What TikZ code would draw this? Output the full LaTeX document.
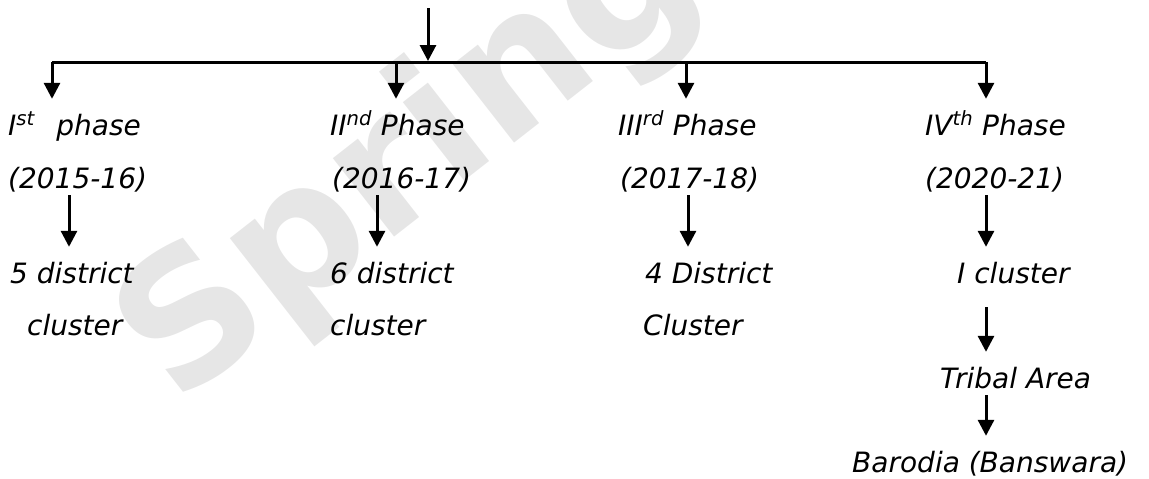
\documentclass[tikz,border=0pt]{standalone}
\usepackage{fontspec}
\setmainfont{DejaVu Sans}
\newfontfamily\lblfont{DejaVu Sans Oblique}
\newfontfamily\wmfont{DejaVu Sans Bold}
\usetikzlibrary{arrows.meta}
\definecolor{wmgray}{RGB}{230,230,230}
\tikzset{
  lbl/.style={font=\lblfont\fontsize{28}{34}\selectfont, inner sep=0pt, anchor=base west, text height=36pt, text depth=7pt},
  conn/.style={line width=3pt},
  arr/.style={conn, -{Triangle[length=16pt,width=16pt]}},
  wm/.style={font=\wmfont\fontsize{182}{182}\selectfont, text=wmgray, rotate=38, inner sep=0pt}
}
\begin{document}
\begin{tikzpicture}[x=1pt,y=-1pt]
\useasboundingbox (0,0) rectangle (1149,479);
% watermark
\begin{scope}
\clip (0,0) rectangle (1149,479);
\node[wm] (wm) at (495,95) {Springer};
\end{scope}
% bus coordinates
\coordinate (top) at (428,8);
\coordinate (joint) at (428,61);
\coordinate (b1) at (52,62);
\coordinate (b2) at (396,62);
\coordinate (b3) at (686,62);
\coordinate (b4) at (986,62);
\coordinate (m1) at (69,0);
\coordinate (m2) at (377,0);
\coordinate (m3) at (688,0);
\coordinate (m4) at (986,0);
% phase labels
\node[lbl] (p1) at (8,135) {I\textsuperscript{st}\hspace{0.45em} phase};
\node[lbl] (p2) at (330,135) {II\textsuperscript{nd} Phase};
\node[lbl] (p3) at (618,135) {III\textsuperscript{rd} Phase};
\node[lbl] (p4) at (925,135) {IV\textsuperscript{th} Phase};
% years
\node[lbl] (y1) at (8,188) {(2015-16)};
\node[lbl] (y2) at (332,188) {(2016-17)};
\node[lbl] (y3) at (620,188) {(2017-18)};
\node[lbl] (y4) at (925,188) {(2020-21)};
% clusters
\node[lbl] (d1) at (10,283) {5 district};
\node[lbl] (e1) at (27,335) {cluster};
\node[lbl] (d2) at (330,283) {6 district};
\node[lbl] (e2) at (330,335) {cluster};
\node[lbl] (d3) at (645,283) {4 District};
\node[lbl] (e3) at (643,335) {Cluster};
\node[lbl] (c4) at (957,283) {I cluster};
\node[lbl] (t4) at (940,388) {Tribal Area};
\node[lbl] (r4) at (852,472) {Barodia (Banswara)};
% connectors
\draw[arr] (top) -- (joint);
\draw[conn] (b1) -- (b4);
\draw[arr] (b1) -- (b1 |- p1.north);
\draw[arr] (b2) -- (b2 |- p2.north);
\draw[arr] (b3) -- (b3 |- p3.north);
\draw[arr] (b4) -- (b4 |- p4.north);
\draw[arr] (m1 |- y1.south) -- (m1 |- d1.north);
\draw[arr] (m2 |- y2.south) -- (m2 |- d2.north);
\draw[arr] (m3 |- y3.south) -- (m3 |- d3.north);
\draw[arr] (m4 |- y4.south) -- (m4 |- c4.north);
\draw[arr, shorten <=17pt] (m4 |- c4.south) -- (m4 |- t4.north);
\draw[arr] (m4 |- t4.south) -- (m4 |- r4.north);
\end{tikzpicture}
\end{document}
